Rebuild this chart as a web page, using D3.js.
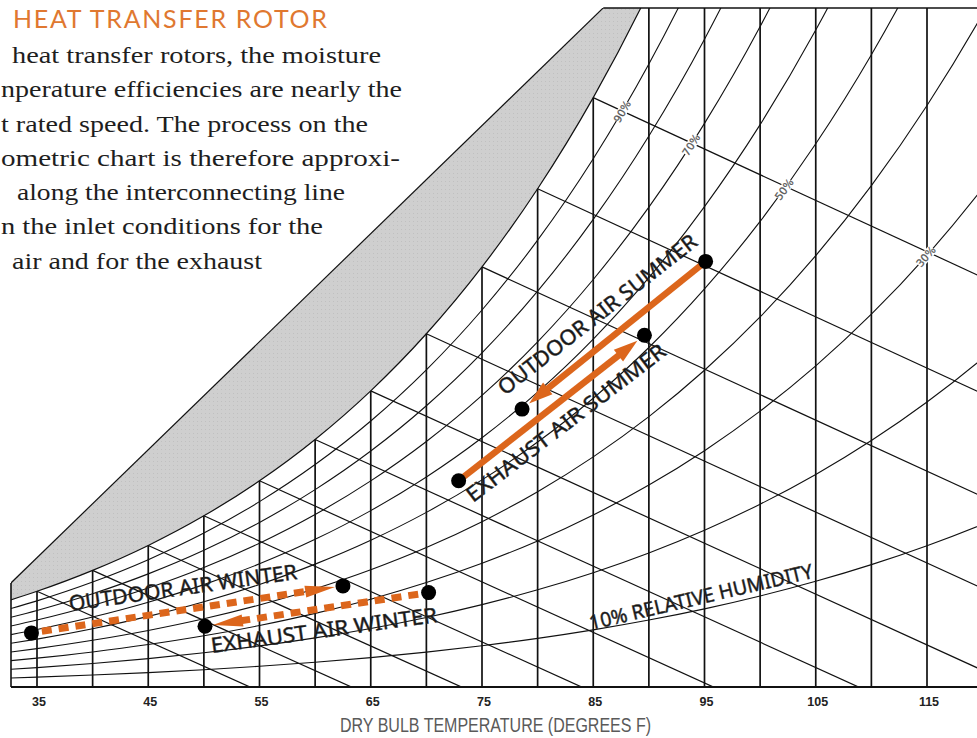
<!DOCTYPE html>
<html><head><meta charset="utf-8">
<script src="https://cdn.jsdelivr.net/npm/d3@7/dist/d3.min.js"></script>
<style>html,body{margin:0;padding:0;background:#fff;overflow:hidden}</style>
</head><body>
<svg id="c" width="977" height="738" xmlns="http://www.w3.org/2000/svg"></svg>
<script>
// ---------------- DATA ----------------
const satTemps = [32,35,40,45,50,55,60,65,70,75,80,85,90,95,100,105,110,115,120,125];
const satPressure = [0.08865,0.09998,0.12173,0.14756,0.17812,0.21413,0.25638,0.30578,0.36334,0.43016,0.50745,0.59659,0.69904,0.81643,0.95051,1.10320,1.27640,1.47240,1.69350,1.94230];
const dryBulbLines = [35,40,45,50,55,60,65,70,75,80,85,90,95,100,105,110,115,120];
const tickLabels = [35,45,55,65,75,85,95,105,115];
const rhLevels = [0.1,0.2,0.3,0.4,0.5,0.6,0.7,0.8,0.9];
const rhLabelLevels = [0.9,0.7,0.5,0.3];
const wetBulbTemps = [35,40,45,50,55,60,65,70,75,80,85];
const rhLabelWetBulb = 85;
const fogEdgeT = [32.66, 85.9];
const fogEdgeW = [0.00463, 0.03033];
const pointNames = ["Outdoor summer","Outdoor summer out","Exhaust summer","Exhaust summer out","Outdoor winter","Outdoor winter out","Exhaust winter","Exhaust winter out"];
const pointT = [95.1, 78.6, 72.9, 89.6, 34.5, 62.5, 70.2, 50.1];
const pointW = [0.0190, 0.0124, 0.0092, 0.0157, 0.0024, 0.0045, 0.0042, 0.0027];
const processFrom = [0, 2, 4, 6];
const processTo = [1, 3, 5, 7];
const processDashed = [false, false, true, true];
const processLabels = ["OUTDOOR AIR SUMMER","EXHAUST AIR SUMMER","OUTDOOR AIR WINTER","EXHAUST AIR WINTER"];
const titleText = "HEAT TRANSFER ROTOR";
const paraLines = ["heat transfer rotors, the moisture","nperature efficiencies are nearly the","t rated speed. The process on the","ometric chart is therefore approxi-","along the interconnecting line","n the inlet conditions for the","air and for the exhaust"];
const axisTitle = "DRY BULB TEMPERATURE (DEGREES F)";
const rhTitle = "10% RELATIVE HUMIDITY";
const P = 14.696;

// ---------------- HELPERS ----------------
const satW = satPressure.map(p => 0.622*p/(P-p));
function psAt(T){
  let i = 0;
  while (i < satTemps.length-2 && T > satTemps[i+1]) i++;
  const t0=satTemps[i], t1=satTemps[i+1];
  const f=(T-t0)/(t1-t0);
  return Math.exp(Math.log(satPressure[i])*(1-f)+Math.log(satPressure[i+1])*f);
}
const wFromPs = p => 0.622*p/(P-p);
const wRH = (T,phi) => wFromPs(phi*psAt(T));
const wsT = T => wFromPs(psAt(T));
function wWB(T, twb){
  const ws = wsT(twb);
  return ((1093-0.556*twb)*ws - 0.24*(T-twb))/(1093+0.444*T-twb);
}

// ---------------- SCALES ----------------
const x = d3.scaleLinear().domain([35,115]).range([37,927]);
const y = d3.scaleLinear().domain([0,0.03]).range([686.6, 686.6-22378*0.03]);
const xL=11, xR=977, yB=687, yT=8;

const svg = d3.select('#c');
const defs = svg.append('defs');
defs.append('clipPath').attr('id','plot').append('rect')
  .attr('x',xL).attr('y',yT).attr('width',xR-xL+20).attr('height',yB-yT);
const pat = defs.append('pattern').attr('id','dots').attr('patternUnits','userSpaceOnUse')
  .attr('width',4).attr('height',4);
pat.append('rect').attr('width',4).attr('height',4).attr('fill','#cfcfcf');
pat.append('rect').attr('x',1).attr('y',1).attr('width',1).attr('height',1).attr('fill','#c0c0c0');

const plot = svg.append('g').attr('clip-path','url(#plot)');
const lineGen = d3.line().curve(d3.curveMonotoneX);

// gray fog band
const satPts = satTemps.map((t,i)=>[x(t), y(satW[i])]);
const fogA = [x(fogEdgeT[0]), y(fogEdgeW[0])];
const fogB = [x(fogEdgeT[1]), y(fogEdgeW[1])];
const slope = (fogB[1]-fogA[1])/(fogB[0]-fogA[0]);
const satUpper = satPts.filter(p=>p[0] <= x(100));
let fogPath = lineGen(satUpper) + `L${fogB[0]},${-400}L${fogB[0]},${fogB[1]}L${fogA[0]},${fogA[1]}L${0},${fogA[1]-slope*fogA[0]}Z`;
plot.append('path').attr('d',fogPath).attr('fill','url(#dots)').attr('stroke','none');

// RH curves
rhLevels.forEach(phi=>{
  const pts = satTemps.map(t=>[x(t), y(wRH(t,phi))]);
  plot.append('path').attr('d',lineGen(pts)).attr('fill','none')
    .attr('stroke','#111').attr('stroke-width',1.1);
});

// wet bulb lines
wetBulbTemps.forEach(twb=>{
  const ws = wsT(twb);
  const tEnd = twb + (1093-0.556*twb)*ws/0.24;
  const pts = [[x(twb), y(ws)], [x(tEnd), y(0)]];
  plot.append('path').attr('d',d3.line()(pts)).attr('fill','none')
    .attr('stroke','#111').attr('stroke-width',1.2);
});

// dry bulb verticals
dryBulbLines.forEach((t)=>{
  const top = Math.max(yT, y(wsT(t)));
  plot.append('line').attr('x1',x(t)).attr('x2',x(t)).attr('y1',yB).attr('y2',top)
    .attr('stroke','#111').attr('stroke-width',1.7);
});

// saturation curve and fog edge outlines
plot.append('path').attr('d',lineGen(satUpper)).attr('fill','none').attr('stroke','#111').attr('stroke-width',1.2);
plot.append('line').attr('x1',fogA[0]).attr('y1',fogA[1]).attr('x2',fogB[0]).attr('y2',fogB[1])
  .attr('stroke','#111').attr('stroke-width',1.2);

// frame
svg.append('line').attr('x1',xL).attr('x2',xR).attr('y1',yB).attr('y2',yB).attr('stroke','#111').attr('stroke-width',2);
svg.append('line').attr('x1',xL).attr('x2',xL).attr('y1',fogA[1]).attr('y2',yB).attr('stroke','#111').attr('stroke-width',1.6);
svg.append('line').attr('x1',fogB[0]).attr('x2',xR).attr('y1',yT).attr('y2',yT).attr('stroke','#111').attr('stroke-width',1.5);

// RH labels on the wet-bulb line
rhLabelLevels.forEach(phi=>{
  let lo=rhLabelWetBulb, hi=140;
  for(let k=0;k<60;k++){
    const m=(lo+hi)/2;
    if (wRH(m,phi) - wWB(m,rhLabelWetBulb) < 0) lo=m; else hi=m;
  }
  const T=(lo+hi)/2, W=wRH(T,phi);
  const dx = x(T+0.5)-x(T-0.5), dy = y(wRH(T+0.5,phi))-y(wRH(T-0.5,phi));
  const ang = Math.atan2(dy,dx)*180/Math.PI;
  const g = svg.append('g').attr('transform',`translate(${x(T)},${y(W)}) rotate(${ang})`);
  g.append('rect').attr('x',-11).attr('y',-5).attr('width',22).attr('height',10).attr('fill','#fff');
  g.append('text').attr('text-anchor','middle').attr('dy','0.36em')
    .attr('font-family','DejaVu Sans, Liberation Sans, sans-serif').attr('font-size',10.5)
    .attr('fill','#444').attr('stroke','#777').attr('stroke-width',0.3).text(Math.round(phi*100)+'%');
});

// process arrows
const orange = '#DC661C';
const dotR = 7.5;
processFrom.forEach((fi,k)=>{
  const ti = processTo[k];
  const p0=[x(pointT[fi]), y(pointW[fi])], p1=[x(pointT[ti]), y(pointW[ti])];
  const L = Math.hypot(p1[0]-p0[0], p1[1]-p0[1]);
  const u=[(p1[0]-p0[0])/L,(p1[1]-p0[1])/L], n=[-u[1],u[0]];
  const dashed = processDashed[k];
  const tipOff = dashed ? dotR+0.5 : dotR+1.5;
  const headL = dashed ? 30 : 24, headW = dashed ? 12 : 15;
  const tip=[p1[0]-u[0]*tipOff, p1[1]-u[1]*tipOff];
  const base=[tip[0]-u[0]*headL, tip[1]-u[1]*headL];
  const startOff = dashed ? dotR+3 : 0;
  const s=[p0[0]+u[0]*startOff, p0[1]+u[1]*startOff];
  const ln = svg.append('line').attr('x1',s[0]).attr('y1',s[1]).attr('x2',base[0]+u[0]*2).attr('y2',base[1]+u[1]*2)
    .attr('stroke',orange).attr('stroke-width', dashed?7:6.5);
  if (dashed) ln.attr('stroke-dasharray','10,7');
  svg.append('path').attr('d',d3.line()([tip,[base[0]+n[0]*headW/2, base[1]+n[1]*headW/2],[base[0]-n[0]*headW/2, base[1]-n[1]*headW/2]])+'Z')
    .attr('fill',orange);
});
// state points
pointT.forEach((t,i)=>{
  svg.append('circle').attr('cx',x(t)).attr('cy',y(pointW[i])).attr('r',dotR).attr('fill','#000');
});

// process labels
const labLayout = [
  {x:505,y:396,a:-38,len:246},
  {x:473,y:503,a:-37.4,len:245},
  {x:70,y:611,a:-8,len:230},
  {x:212,y:653,a:-7.8,len:228}
];
const labFont = 'Noto Sans, Open Sans, sans-serif';
processLabels.forEach((t,i)=>{
  const L=labLayout[i];
  svg.append('text').attr('transform',`translate(${L.x},${L.y}) rotate(${L.a})`)
    .attr('font-family',labFont).attr('font-size',21)
    .attr('fill','#151515').attr('stroke','#333').attr('stroke-width',0.5)
    .attr('textLength',L.len).attr('lengthAdjust','spacingAndGlyphs').text(t);
});
svg.append('text').attr('transform','translate(591,630) rotate(-13.2)')
  .attr('font-family',labFont).attr('font-size',20)
  .attr('fill','#151515').attr('stroke','#333').attr('stroke-width',0.5)
  .attr('textLength',229).attr('lengthAdjust','spacingAndGlyphs').text(rhTitle);

// ticks
tickLabels.forEach(t=>{
  svg.append('text').attr('x',x(t)+2).attr('y',706).attr('text-anchor','middle')
    .attr('font-family','Liberation Sans, Arial, sans-serif').attr('font-weight','bold')
    .attr('font-size',12.5).attr('fill','#222').text(t);
});
svg.append('text').attr('x',340).attr('y',732)
  .attr('font-family','Liberation Sans Narrow, Liberation Sans, sans-serif').attr('font-size',20)
  .attr('fill','#5a5a5a').attr('textLength',311).attr('lengthAdjust','spacingAndGlyphs').text(axisTitle);

// title + paragraph
svg.append('text').attr('x',13).attr('y',28)
  .attr('font-family','Lato, Open Sans, sans-serif').attr('font-size',25)
  .attr('fill','#E07830').attr('textLength',314).attr('lengthAdjust','spacing').text(titleText);
const paraLayout = [
  {ms:12, me:381},
  {ms:1, me:402},
  {ms:1, me:368},
  {ms:1, me:400},
  {ms:17, me:345},
  {ms:1, me:323},
  {ms:12, me:262}
];
paraLines.forEach((t,i)=>{
  const L=paraLayout[i], by = 63 + i*34.25;
  svg.append('text').attr('x',L.ms).attr('y',by)
    .attr('font-family','Liberation Serif, Times New Roman, serif').attr('font-size',24)
    .attr('fill','#1e1e1e').attr('textLength',L.me-L.ms).attr('lengthAdjust','spacingAndGlyphs').text(t);
});
</script>
</body></html>
